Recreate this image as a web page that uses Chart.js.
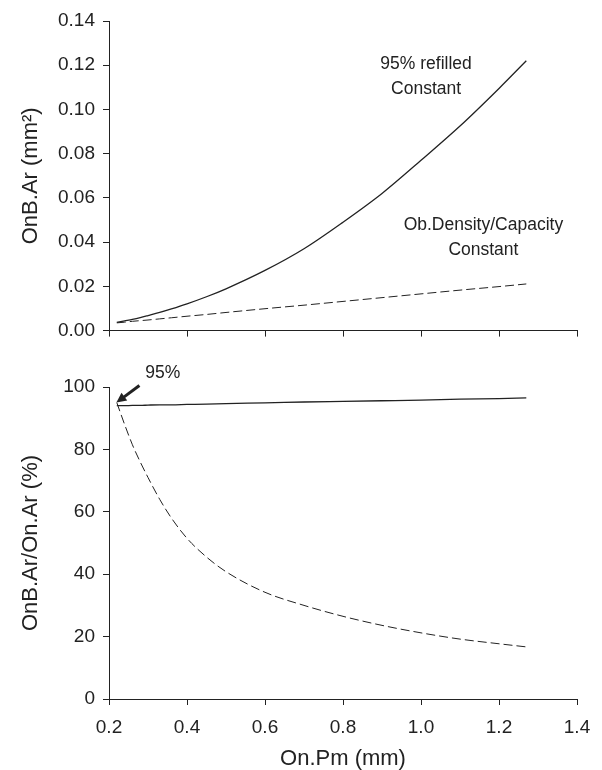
<!DOCTYPE html>
<html lang="en">
<head>
    <meta charset="UTF-8">
    <title>OnB.Ar vs On.Pm</title>
    <script src="https://cdn.jsdelivr.net/npm/chart.js"></script>
    <style>
        body {
            margin: 0;
            background: #fff;
            font-family: 'Liberation Sans', Arial, sans-serif;
        }
        .panel {
            position: absolute;
            left: 0;
            width: 602px;
        }
        #topWrap { top: 0; height: 350px; }
        #bottomWrap { top: 350px; height: 420px; }
    </style>
</head>
<body>
    <div class="panel" id="topWrap"><canvas id="topChart" width="602" height="350"></canvas></div>
    <div class="panel" id="bottomWrap"><canvas id="bottomChart" width="602" height="420"></canvas></div>

    <script>
        // On.Pm (mm) sample positions
        const onPm = [0.22, 0.24, 0.26, 0.28, 0.30, 0.33, 0.36, 0.40, 0.45, 0.50, 0.6, 0.7, 0.8, 0.9, 1.0, 1.1, 1.2, 1.27];

        // top panel: OnB.Ar (mm2)
        const areaRefilled = [0.0037, 0.0044, 0.0051, 0.0059, 0.0068, 0.0082, 0.0098, 0.0121, 0.0153, 0.0189, 0.0272, 0.0370, 0.0490, 0.0620, 0.0770, 0.0925, 0.1095, 0.1220];
        const areaObDensity = [0.0035, 0.0038, 0.0042, 0.0045, 0.0048, 0.0053, 0.0058, 0.0065, 0.0073, 0.0082, 0.0099, 0.0115, 0.0132, 0.0149, 0.0166, 0.0183, 0.0199, 0.0211];

        // bottom panel: OnB.Ar/On.Ar (%)
        const pctRefilled = [94.0, 94.0, 94.1, 94.1, 94.2, 94.3, 94.3, 94.4, 94.5, 94.7, 94.9, 95.2, 95.4, 95.6, 95.8, 96.1, 96.3, 96.5];
        const pctObDensity = [95.0, 88.0, 81.5, 76.0, 71.0, 64.0, 58.0, 51.5, 45.5, 40.8, 34.2, 30.0, 26.5, 23.6, 21.2, 19.2, 17.7, 16.7];

        const xTicks = [0.2, 0.4, 0.6, 0.8, 1.0, 1.2, 1.4];
        const topYTicks = [0, 0.02, 0.04, 0.06, 0.08, 0.10, 0.12, 0.14];
        const bottomYTicks = [0, 20, 40, 60, 80, 100];

        const ink = '#222';
        const fontFamily = "'Liberation Sans', Arial, sans-serif";

        function toPoints(ys) {
            return onPm.map((x, i) => ({ x: x, y: ys[i] }));
        }

        function lineSet(ys, dashed) {
            return {
                data: toPoints(ys),
                borderColor: ink,
                borderWidth: dashed ? 1 : 1.3,
                borderDash: dashed ? [9, 4] : [],
                pointRadius: 0,
                cubicInterpolationMode: 'monotone',
                fill: false
            };
        }

        function xAxis(showLabels, height) {
            return {
                type: 'linear',
                min: 0.2,
                max: 1.4,
                afterBuildTicks: s => { s.ticks = xTicks.map(v => ({ value: v })); },
                afterFit: s => { s.height = height; },
                grid: { drawOnChartArea: false, drawTicks: true, tickLength: 6, color: ink },
                border: { display: true, color: ink, width: 1 },
                ticks: {
                    display: showLabels,
                    color: ink,
                    padding: 11,
                    font: { family: fontFamily, size: 19 },
                    callback: v => v.toFixed(1)
                },
                title: {
                    display: showLabels,
                    text: 'On.Pm (mm)',
                    color: ink,
                    padding: { top: 0, bottom: 0 },
                    font: { family: fontFamily, size: 22, lineHeight: 1 }
                }
            };
        }

        function yAxis(min, max, ticks, digits, label) {
            return {
                type: 'linear',
                min: min,
                max: max,
                afterBuildTicks: s => { s.ticks = ticks.map(v => ({ value: v })); },
                afterFit: s => { s.width = 109; },
                grid: { drawOnChartArea: false, drawTicks: true, tickLength: 6, color: ink },
                border: { display: true, color: ink, width: 1 },
                ticks: {
                    color: ink,
                    padding: 8,
                    font: { family: fontFamily, size: 19 },
                    callback: v => v.toFixed(digits)
                },
                title: {
                    display: true,
                    text: label,
                    color: ink,
                    padding: { top: 18, bottom: 4 },
                    font: { family: fontFamily, size: 22 }
                }
            };
        }

        // annotation text, anchored in data coordinates
        const notes = {
            id: 'notes',
            afterDraw(chart, args, opts) {
                const ctx = chart.ctx;
                const xs = chart.scales.x, ys = chart.scales.y;
                ctx.save();
                ctx.fillStyle = ink;
                ctx.strokeStyle = ink;
                ctx.font = '17.5px ' + fontFamily;
                ctx.textAlign = 'center';
                ctx.textBaseline = 'middle';
                (opts.labels || []).forEach(l => {
                    ctx.fillText(l.text, xs.getPixelForValue(l.x), ys.getPixelForValue(l.y));
                });
                (opts.arrows || []).forEach(a => {
                    const x0 = xs.getPixelForValue(a.from[0]), y0 = ys.getPixelForValue(a.from[1]);
                    const x1 = xs.getPixelForValue(a.to[0]), y1 = ys.getPixelForValue(a.to[1]);
                    const ang = Math.atan2(y1 - y0, x1 - x0);
                    const head = 11;
                    ctx.lineWidth = 3;
                    ctx.beginPath();
                    ctx.moveTo(x0, y0);
                    ctx.lineTo(x1 - Math.cos(ang) * head * 0.8, y1 - Math.sin(ang) * head * 0.8);
                    ctx.stroke();
                    ctx.beginPath();
                    ctx.moveTo(x1, y1);
                    ctx.lineTo(x1 - head * Math.cos(ang - 0.45), y1 - head * Math.sin(ang - 0.45));
                    ctx.lineTo(x1 - head * Math.cos(ang + 0.45), y1 - head * Math.sin(ang + 0.45));
                    ctx.closePath();
                    ctx.fill();
                });
                ctx.restore();
            }
        };

        new Chart(document.getElementById('topChart'), {
            type: 'line',
            data: { datasets: [lineSet(areaRefilled, false), lineSet(areaObDensity, true)] },
            options: {
                responsive: false,
                animation: false,
                layout: { padding: { top: 21, right: 25, left: 0, bottom: 0 } },
                plugins: {
                    legend: { display: false },
                    tooltip: { enabled: false },
                    notes: {
                        labels: [
                            { text: '95% refilled', x: 1.013, y: 0.1205 },
                            { text: 'Constant', x: 1.013, y: 0.1090 },
                            { text: 'Ob.Density/Capacity', x: 1.16, y: 0.0475 },
                            { text: 'Constant', x: 1.16, y: 0.0363 }
                        ]
                    }
                },
                scales: {
                    x: xAxis(false, 19),
                    y: yAxis(0, 0.14, topYTicks, 2, 'OnB.Ar (mm\u00B2)')
                }
            },
            plugins: [notes]
        });

        new Chart(document.getElementById('bottomChart'), {
            type: 'line',
            data: { datasets: [lineSet(pctRefilled, false), lineSet(pctObDensity, true)] },
            options: {
                responsive: false,
                animation: false,
                layout: { padding: { top: 37, right: 25, left: 0, bottom: 0 } },
                plugins: {
                    legend: { display: false },
                    tooltip: { enabled: false },
                    notes: {
                        labels: [{ text: '95%', x: 0.338, y: 104.5 }],
                        arrows: [{ from: [0.278, 100.5], to: [0.219, 95.0] }]
                    }
                },
                scales: {
                    x: xAxis(true, 71),
                    y: yAxis(0, 100, bottomYTicks, 0, 'OnB.Ar/On.Ar (%)')
                }
            },
            plugins: [notes]
        });
    </script>
</body>
</html>
